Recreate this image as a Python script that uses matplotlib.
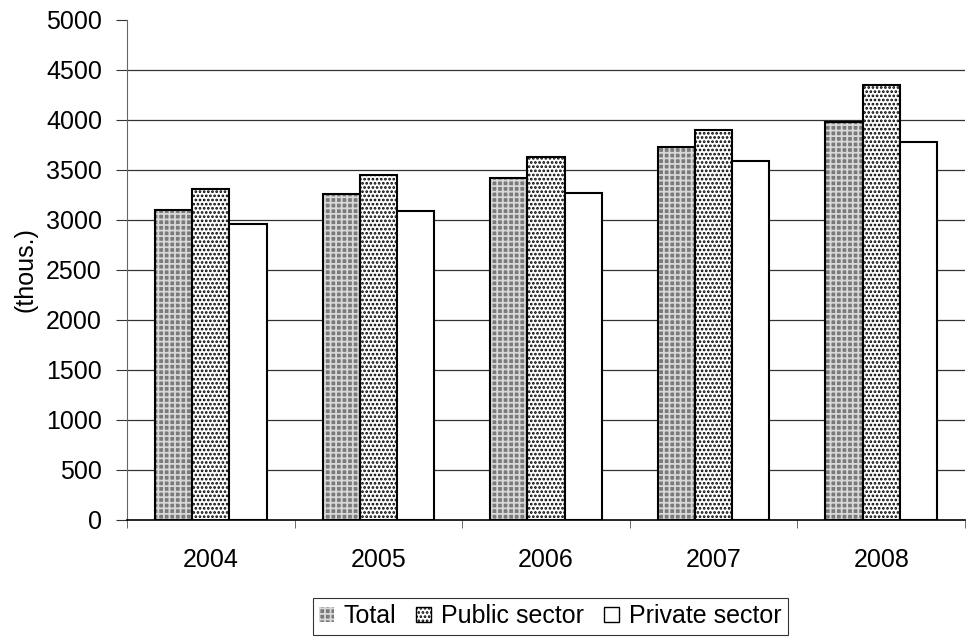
import numpy as np
import matplotlib
matplotlib.use('Agg')
import matplotlib.pyplot as plt
from matplotlib.patches import Patch

plt.rcParams['font.family'] = ['Liberation Sans', 'DejaVu Sans']
plt.rcParams['hatch.linewidth'] = 1.3

years = ['2004', '2005', '2006', '2007', '2008']
total = [3100, 3260, 3420, 3730, 3980]
public = [3310, 3450, 3630, 3900, 4350]
private = [2960, 3090, 3270, 3590, 3780]

fig = plt.figure(figsize=(9.69, 6.37), dpi=100)
ax = fig.add_axes([0.131, 0.184, 0.865, 0.785])

x = np.arange(len(years))
w = 0.222
fs = 18

# Total: grey fill with a light hatch, black outline drawn on top
ax.bar(x - w, total, w, color='#7a7a7a', edgecolor='#d8d8d8', linewidth=0,
       hatch='+++', zorder=3)
ax.bar(x - w, total, w, fill=False, edgecolor='black', linewidth=1.5, zorder=4)
ax.bar(x, public, w, color='white', edgecolor='black', linewidth=1.5,
       hatch='....', zorder=3)
ax.bar(x + w, private, w, color='white', edgecolor='black', linewidth=1.5,
       zorder=3)

ax.set_xlim(-0.5, len(years) - 0.5)
ax.set_ylim(0, 5000)
ax.set_yticks(range(0, 5001, 500))
ax.set_xticks(x)
ax.set_xticklabels(years)
ax.set_xticks(np.arange(-0.5, len(years)), minor=True)
ax.tick_params(axis='x', which='major', length=0, pad=20, labelsize=fs)
ax.tick_params(axis='x', which='minor', length=6, direction='out', color='#555555')
ax.tick_params(axis='y', length=8, direction='out', labelsize=fs, pad=10, color='#333333')

for v in range(500, 5000, 500):
    ax.axhline(v, color='#333333', linewidth=0.9, zorder=0)
for s in ['top', 'right']:
    ax.spines[s].set_visible(False)
ax.spines['left'].set_color('#666666')
ax.spines['bottom'].set_color('black')
ax.spines['bottom'].set_linewidth(1.2)

ax.set_ylabel('(thous.)', fontsize=fs, labelpad=6)

handles = [
    Patch(facecolor='#7a7a7a', edgecolor='#d8d8d8', hatch='+++', linewidth=0),
    Patch(facecolor='white', edgecolor='black', hatch='....', linewidth=1),
    Patch(facecolor='white', edgecolor='black', linewidth=1),
]
leg = fig.legend(handles, ['Total', 'Public sector', 'Private sector'],
                 loc='lower center', bbox_to_anchor=(0.568, 0.0), ncol=3,
                 frameon=True, fancybox=False, edgecolor='black', fontsize=fs,
                 handlelength=0.6, handleheight=0.6, handletextpad=0.4,
                 columnspacing=0.8, borderpad=0.25, borderaxespad=0.1)
leg.get_frame().set_linewidth(0.8)

fig.savefig('out.png', dpi=100)
